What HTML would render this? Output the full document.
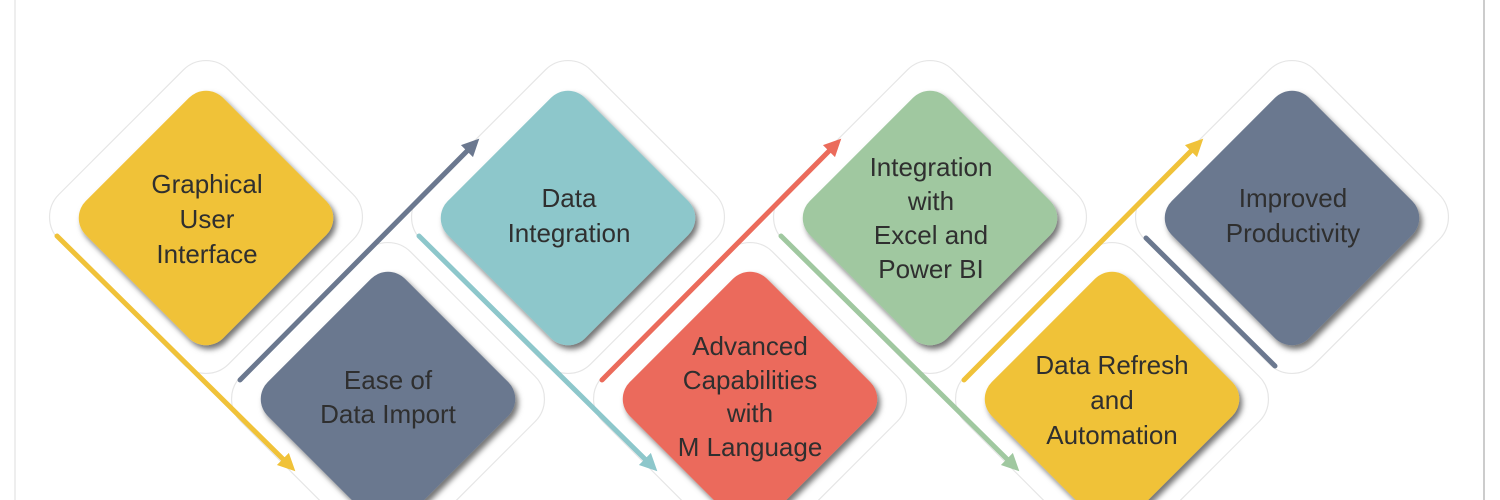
<!DOCTYPE html>
<html><head><meta charset="utf-8"><style>
html,body{margin:0;padding:0;background:#fff;overflow:hidden;}
svg{display:block;}
text{font-family:"Liberation Sans",sans-serif;font-size:26px;fill:#2f2f2f;text-anchor:middle;}
</style></head><body>
<svg width="1500" height="500" viewBox="0 0 1500 500">
<defs>
<filter id="sh" x="-30%" y="-30%" width="160%" height="160%"><feDropShadow dx="3" dy="4" stdDeviation="3" flood-color="#000" flood-opacity="0.55"/></filter>
<marker id="ah" markerWidth="4" markerHeight="4" refX="2" refY="2" orient="auto" markerUnits="strokeWidth"><path d="M0,0.3 L3.5,2 L0,3.7 z" fill="context-stroke"/></marker>
</defs>
<line x1="15" y1="0" x2="15" y2="500" stroke="#eee" stroke-width="2"/>
<line x1="1484" y1="0" x2="1484" y2="500" stroke="#999" stroke-width="1"/>
<g fill="#fff" stroke="#e6e6e6" stroke-width="1.2">
<rect x="-120" y="-120" width="240" height="240" rx="32" transform="translate(206,217) rotate(45)"/>
<rect x="-120" y="-120" width="240" height="240" rx="32" transform="translate(568,217) rotate(45)"/>
<rect x="-120" y="-120" width="240" height="240" rx="32" transform="translate(930,217) rotate(45)"/>
<rect x="-120" y="-120" width="240" height="240" rx="32" transform="translate(1292,217) rotate(45)"/>
<rect x="-120" y="-120" width="240" height="240" rx="32" transform="translate(388,399) rotate(45)"/>
<rect x="-120" y="-120" width="240" height="240" rx="32" transform="translate(750,399) rotate(45)"/>
<rect x="-120" y="-120" width="240" height="240" rx="32" transform="translate(1112,399) rotate(45)"/>
</g>
<g stroke-width="5" stroke-linecap="round">
<line x1="57" y1="236" x2="290" y2="466" stroke="#F0C239" marker-end="url(#ah)"/>
<line x1="240" y1="380" x2="474" y2="144" stroke="#6B788F" marker-end="url(#ah)"/>
<line x1="419" y1="236" x2="652" y2="466" stroke="#8DC7CB" marker-end="url(#ah)"/>
<line x1="602" y1="380" x2="836" y2="144" stroke="#EB6B5B" marker-end="url(#ah)"/>
<line x1="781" y1="236" x2="1014" y2="466" stroke="#A0C8A0" marker-end="url(#ah)"/>
<line x1="964" y1="380" x2="1198" y2="144" stroke="#F0C239" marker-end="url(#ah)"/>
<line x1="1146" y1="238" x2="1275" y2="366" stroke="#6B788F"/>
</g>
<g filter="url(#sh)">
<rect x="-97" y="-97" width="194" height="194" rx="24" fill="#F0C239" transform="translate(206,218) rotate(45)"/>
<rect x="-97" y="-97" width="194" height="194" rx="24" fill="#8DC7CB" transform="translate(568,218) rotate(45)"/>
<rect x="-97" y="-97" width="194" height="194" rx="24" fill="#A0C8A0" transform="translate(930,218) rotate(45)"/>
<rect x="-97" y="-97" width="194" height="194" rx="24" fill="#6B788F" transform="translate(1292,218) rotate(45)"/>
<rect x="-97" y="-97" width="194" height="194" rx="24" fill="#6B788F" transform="translate(388,399) rotate(45)"/>
<rect x="-97" y="-97" width="194" height="194" rx="24" fill="#EB6B5B" transform="translate(750,399) rotate(45)"/>
<rect x="-97" y="-97" width="194" height="194" rx="24" fill="#F0C239" transform="translate(1112,399) rotate(45)"/>
</g>
<text x="207" y="193">Graphical</text>
<text x="207" y="228">User</text>
<text x="207" y="263">Interface</text>
<text x="388" y="389">Ease of</text>
<text x="388" y="423">Data Import</text>
<text x="569" y="207">Data</text>
<text x="569" y="242">Integration</text>
<text x="750" y="355">Advanced</text>
<text x="750" y="389">Capabilities</text>
<text x="750" y="422">with</text>
<text x="750" y="456">M Language</text>
<text x="931" y="176">Integration</text>
<text x="931" y="210">with</text>
<text x="931" y="244">Excel and</text>
<text x="931" y="278">Power BI</text>
<text x="1112" y="374">Data Refresh</text>
<text x="1112" y="409">and</text>
<text x="1112" y="444">Automation</text>
<text x="1293" y="207">Improved</text>
<text x="1293" y="242">Productivity</text>
</svg>
</body></html>
